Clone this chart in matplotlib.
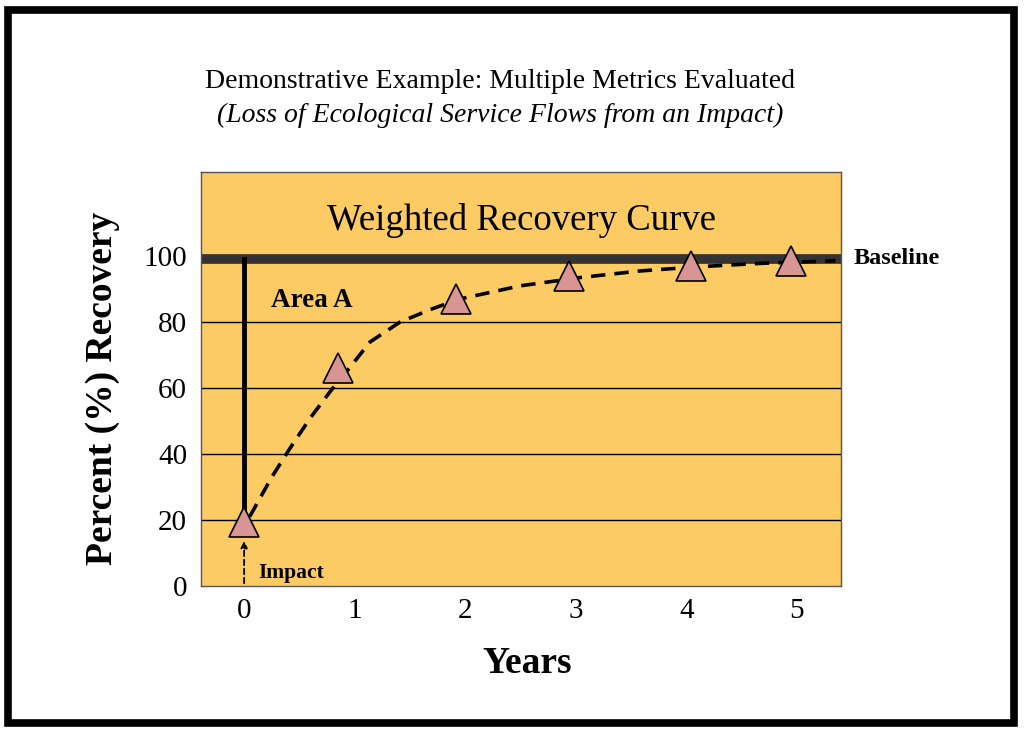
import matplotlib
matplotlib.use("Agg")
import matplotlib.pyplot as plt
from matplotlib.patches import Rectangle

# data
marker_years = [0, 0.85, 1.92, 2.94, 4.04, 4.95]
marker_pct = [19.5, 66, 87, 94, 97, 98.5]
curve_years = [0.05, 0.25, 0.42, 0.6, 0.78, 0.95, 1.14, 1.41, 1.7, 1.95, 2.5, 3.04, 3.58, 4.12, 4.67, 5.35]
curve_pct = [21, 33, 42, 51, 59, 66, 74, 80, 84, 87, 91, 93.5, 95.5, 96.8, 97.8, 98.6]
baseline_pct = 99
impact_pct = 19.5
year_ticks = [0, 1, 2, 3, 4, 5]
pct_ticks = [0, 20, 40, 60, 80, 100]

plt.rcParams['font.family'] = ['Liberation Serif', 'DejaVu Serif']

fig = plt.figure(figsize=(10.24, 7.31), dpi=100)
ax = fig.add_axes([0.1963, 0.1984, 0.625, 0.5663])
ax.set_facecolor('#FDCB63')

ax.set_xlim(-0.39, 5.4)
ax.set_ylim(0, 125.5)

# grid lines
for y in pct_ticks[1:-1]:
    ax.axhline(y, color='black', lw=1, zorder=1)

# baseline
ax.axhline(baseline_pct, color='#333333', lw=7, zorder=2)

# impact vertical line
ax.plot([0, 0], [impact_pct, baseline_pct], color='black', lw=3.5, zorder=3)

# recovery curve
ax.plot(curve_years, curve_pct, color='black', lw=2.6, ls=(0, (4, 2.5)), zorder=4)
ax.plot(marker_years, marker_pct, ls='none', marker='^', ms=21,
        mfc='#D99593', mec='black', mew=1.2, zorder=5)

# impact arrow
ax.annotate('', xy=(0, 14.5), xytext=(0, 0),
            arrowprops=dict(arrowstyle='-|>', color='black', lw=1.3,
                            ls=(0, (3, 2)), mutation_scale=10), zorder=6)
ax.text(0.13, 3.8, 'Impact', fontsize=15.5, fontweight='bold', va='center')

ax.text(0.24, 86.5, 'Area A', fontsize=19.5, fontweight='bold', va='center')
ax.text(0.5, 0.883, 'Weighted Recovery Curve', transform=ax.transAxes,
        fontsize=26.5, ha='center', va='center')

ax.set_xticks(year_ticks)
ax.set_yticks(pct_ticks)
ax.tick_params(length=0, labelsize=21)
ax.tick_params(axis='y', pad=10)
ax.tick_params(axis='x', pad=9)
for s in ax.spines.values():
    s.set_color('#555555')
    s.set_linewidth(1)

ax.set_xlabel('Years', fontsize=27, fontweight='bold')
ax.set_ylabel('Percent (%) Recovery', fontsize=27, fontweight='bold')
ax.xaxis.set_label_coords(0.509, -0.145)
ax.yaxis.set_label_coords(-0.127, 0.478)

fig.text(854 / 1024, 1 - 259 / 731, 'Baseline', fontsize=17.5, fontweight='bold', va='center')
fig.text(500 / 1024, 1 - 82 / 731, 'Demonstrative Example: Multiple Metrics Evaluated',
         fontsize=20, ha='center', va='center')
fig.text(500 / 1024, 1 - 115 / 731, '(Loss of Ecological Service Flows from an Impact)',
         fontsize=20, style='italic', ha='center', va='center')

# outer frame
fig.patches.append(Rectangle((8 / 1024, 8 / 731), 1006 / 1024, 713 / 731,
                             transform=fig.transFigure, fill=False,
                             edgecolor='black', lw=5.5))

fig.savefig('out.png', dpi=100)
